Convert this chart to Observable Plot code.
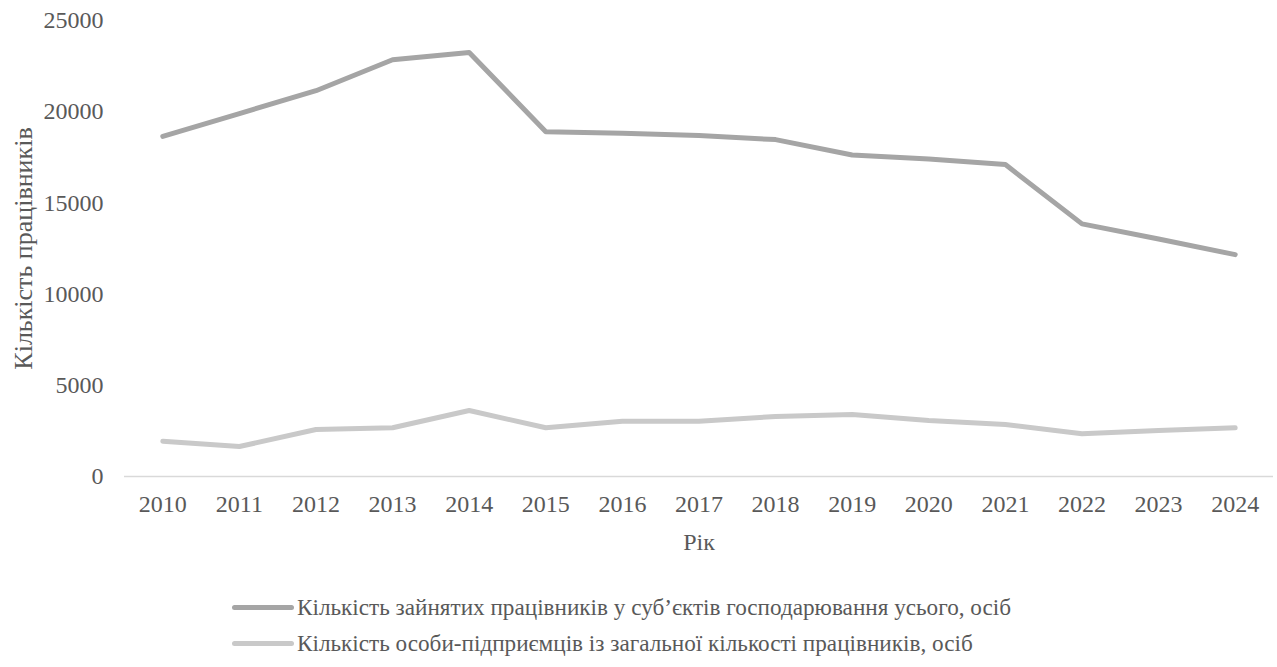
<!DOCTYPE html>
<html>
<head>
<meta charset="utf-8">
<script src="https://cdn.jsdelivr.net/npm/d3@7"></script>
<script src="https://cdn.jsdelivr.net/npm/@observablehq/plot@0.6"></script>
<style>
  html, body { margin: 0; padding: 0; background: #fff; }
  body { width: 1277px; height: 667px; position: relative; overflow: hidden; font-family: 'Liberation Serif', 'Times New Roman', serif; }
  #chart { position: absolute; left: 0; top: 0; width: 1277px; }
  #chart svg { max-width: none; }
  #chart svg text { font-family: 'Liberation Serif', 'Times New Roman', serif; }
  .legend { position: absolute; left: 232px; top: 589px; font-size: 23.2px; color: #595959; font-family: 'Liberation Serif', 'Times New Roman', serif; }
  .legend-item { display: flex; align-items: center; height: 36px; }
  .swatch { width: 62px; height: 5px; border-radius: 3px; margin-right: 3px; }
</style>
</head>
<body>
<div id="chart"></div>
<div class="legend" id="legend">
  <div class="legend-item"><span class="swatch" style="background:#a5a5a5"></span><span class="lg-text">Кількість зайнятих працівників у суб’єктів господарювання усього, осіб</span></div>
  <div class="legend-item"><span class="swatch" style="background:#c9c9c9"></span><span class="lg-text">Кількість особи-підприємців із загальної кількості працівників, осіб</span></div>
</div>
<script>
const years = ["2010","2011","2012","2013","2014","2015","2016","2017","2018","2019","2020","2021","2022","2023","2024"];
const seriesNames = [
  "Кількість зайнятих працівників у суб’єктів господарювання усього, осіб",
  "Кількість особи-підприємців із загальної кількості працівників, осіб"
];
const employed = [18650, 19900, 21150, 22850, 23250, 18900, 18820, 18690, 18470, 17630, 17410, 17100, 13850, 13025, 12165];
const entrepreneurs = [1935, 1645, 2575, 2670, 3617, 2670, 3030, 3030, 3290, 3400, 3070, 2850, 2340, 2520, 2670];
const yTicks = [0, 5000, 10000, 15000, 20000, 25000];
const colors = ["#a5a5a5", "#c9c9c9"];
const xTitle = "Рік";
const yTitle = "Кількість працівників";

const data = [];
years.forEach((y, i) => {
  data.push({year: y, value: employed[i], series: seriesNames[0]});
  data.push({year: y, value: entrepreneurs[i], series: seriesNames[1]});
});

const chart = Plot.plot({
  width: 1277,
  height: 560,
  marginTop: 20,
  marginBottom: 84,
  marginLeft: 124,
  marginRight: 4,
  style: {fontFamily: "'Liberation Serif', 'Times New Roman', serif", fontSize: "24px", color: "#595959", background: "#fff", maxWidth: "none"},
  x: {type: "point", domain: years, padding: 0.5, round: false},
  y: {domain: [0, 25000]},
  color: {domain: seriesNames, range: colors},
  marks: [
    Plot.ruleY([0], {stroke: "#d9d9d9", strokeWidth: 1.3}),
    Plot.axisX({tickSize: 0, tickPadding: 18, label: xTitle, labelAnchor: "center", labelArrow: "none", labelOffset: 73, fill: "#595959"}),
    Plot.axisY({ticks: yTicks, tickSize: 0, tickPadding: 21, tickFormat: d => String(d), label: null, fill: "#595959"}),
    Plot.text([yTitle], {frameAnchor: "left", dx: -101, rotate: -90, fontSize: 26, fill: "#595959", textAnchor: "middle"}),
    Plot.line(data, {x: "year", y: "value", z: "series", stroke: "series", strokeWidth: 5, strokeLinecap: "round", strokeLinejoin: "round"})
  ]
});
document.getElementById("chart").appendChild(chart);

// keep legend labels in sync with the series arrays
document.querySelectorAll("#legend .legend-item").forEach((item, i) => {
  item.querySelector(".swatch").style.background = colors[i];
  item.querySelector(".lg-text").textContent = seriesNames[i];
});

// force style/layout resolution so the serif face is applied before capture
getComputedStyle(document.getElementById("legend")).fontFamily;
chart.querySelectorAll("text").forEach(t => getComputedStyle(t).fontFamily);
chart.getBoundingClientRect();
document.body.offsetHeight;
</script>
</body>
</html>
